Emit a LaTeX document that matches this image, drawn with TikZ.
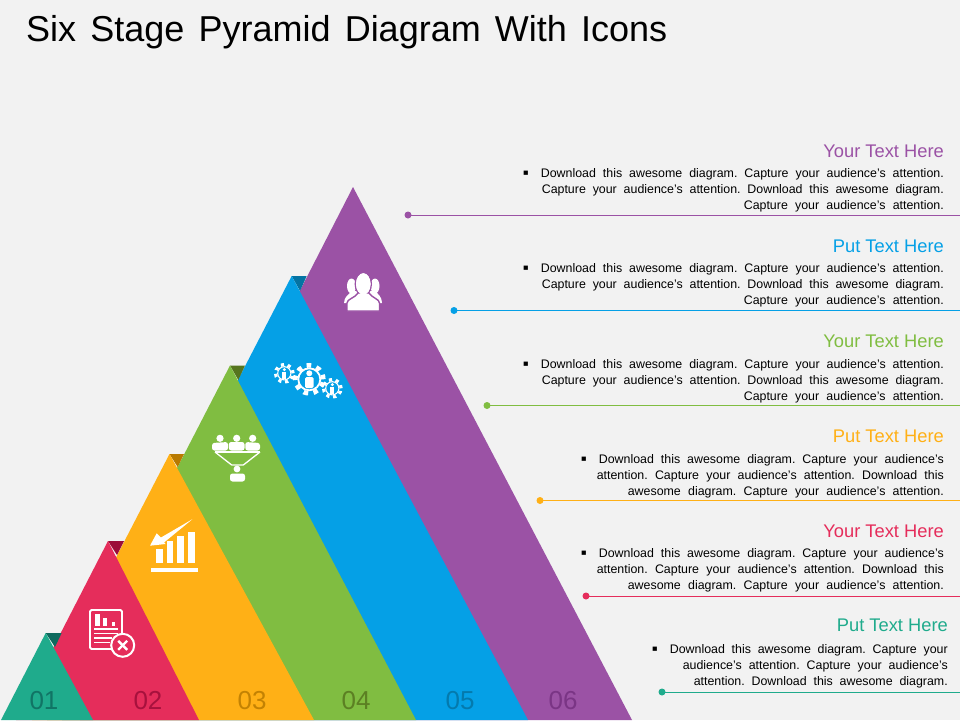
\documentclass[tikz,border=0pt]{standalone}
\usepackage{fontspec}
\setmainfont{Liberation Sans}

\definecolor{paper}{HTML}{F2F2F2}
\definecolor{tealc}{HTML}{1FAB8C}
\definecolor{redc}{HTML}{E52D5B}
\definecolor{yellowc}{HTML}{FFB016}
\definecolor{greenc}{HTML}{80BD41}
\definecolor{bluec}{HTML}{05A0E6}
\definecolor{purplec}{HTML}{9B52A5}
\definecolor{tealdark}{HTML}{0E6A5E}
\definecolor{reddark}{HTML}{9C0C38}
\definecolor{yellowdark}{HTML}{B87A00}
\definecolor{greendark}{HTML}{56751E}
\definecolor{bluedark}{HTML}{0473A3}
\definecolor{purpledark}{HTML}{74307F}

\newcommand{\fullrow}[2]{\makebox[#1pt][s]{#2}}

\tikzset{
  headtext/.style={anchor=east,inner sep=0pt,font=\fontsize{18.3}{20}\selectfont},
  bodytext/.style={anchor=north east,inner sep=0pt,align=right,font=\fontsize{12.4}{16}\selectfont\frenchspacing},
  bullettext/.style={inner sep=0pt,font=\fontsize{17}{16}\selectfont},
  numtext/.style={inner sep=0pt,font=\fontsize{26}{28}\selectfont},
  leader/.style={line width=0.8pt},
  iconline/.style={draw=white,line width=1.8pt},
  gearring/.style={draw=white,line width=1.8pt},
  gearteeth/.style={draw=white,line width=#1}
}

\begin{document}
\begin{tikzpicture}[x=1pt,y=-1pt]
  \useasboundingbox (0,0) rectangle (960,720);
  \fill[paper] (0,0) rectangle (960,720);

  \node [anchor=west,inner sep=0pt,font=\fontsize{36}{40}\selectfont] (title) at (26,32) {\fullrow{641}{Six Stage Pyramid Diagram With Icons}};

  % stripes, back to front
  \fill[purplec] (353,187) -- (632,720) -- (80,720) -- cycle;
  \fill[bluedark] (291.7,276) -- (306.7,276) -- (300,291) -- cycle;
  \fill[bluec] (291.7,276) -- (528,720) -- (62,720) -- cycle;
  \fill[greendark] (230,365.5) -- (245,365.5) -- (238.3,380) -- cycle;
  \fill[greenc] (230,365.5) -- (416,720) -- (47,720) -- cycle;
  \fill[yellowdark] (169.5,454) -- (184,454) -- (177.7,467) -- cycle;
  \fill[yellowc] (169.5,454) -- (314,720) -- (32,720) -- cycle;
  \fill[reddark] (108,541) -- (124,541) -- (117,555) -- cycle;
  \fill[redc] (108,541) -- (199,720) -- (16,720) -- cycle;
  \fill[tealdark] (45.7,633) -- (61.7,633) -- (55,647) -- cycle;
  \fill[tealc] (45.7,633) -- (93,720) -- (1,720) -- cycle;

  \node [numtext,text=tealdark!85!tealc] (n1) at (44,700.5) {01};
  \node [numtext,text=reddark!85!redc] (n2) at (148,700.5) {02};
  \node [numtext,text=yellowdark!85!yellowc] (n3) at (252,700.5) {03};
  \node [numtext,text=greendark!85!greenc] (n4) at (356,700.5) {04};
  \node [numtext,text=bluedark!85!bluec] (n5) at (460,700.5) {05};
  \node [numtext,text=purpledark!85!purplec] (n6) at (563,700.5) {06};

  % leader lines
  \coordinate (A) at (408,215);
  \coordinate (AA) at (960,215);
  \coordinate (B) at (454,310.5);
  \coordinate (BB) at (960,310.5);
  \coordinate (C) at (487,405.5);
  \coordinate (CC) at (960,405.5);
  \coordinate (D) at (540,500.5);
  \coordinate (DD) at (960,500.5);
  \coordinate (E) at (586,596);
  \coordinate (EE) at (960,596);
  \coordinate (F) at (662,692);
  \coordinate (FF) at (960,692);

  \fill[purplec] (A) circle (3.5pt);
  \draw[leader,purplec] (A) -- (AA);
  \fill[bluec] (B) circle (3.5pt);
  \draw[leader,bluec] (B) -- (BB);
  \fill[greenc] (C) circle (3.5pt);
  \draw[leader,greenc] (C) -- (CC);
  \fill[yellowc] (D) circle (3.5pt);
  \draw[leader,yellowc] (D) -- (DD);
  \fill[redc] (E) circle (3.5pt);
  \draw[leader,redc] (E) -- (EE);
  \fill[tealc] (F) circle (3.5pt);
  \draw[leader,tealc] (F) -- (FF);

  % texts
  \node [headtext,text=purplec] (h6) at (944,151) {Your Text Here};
  \node [bullettext] (b6) at (526,175) {▪};
  \node [bodytext] (t6) at (944,168.5) {\fullrow{403}{Download this awesome diagram. Capture your audience's attention.}\\\fullrow{402}{Capture your audience's attention. Download this awesome diagram.}\\\fullrow{200}{Capture your audience's attention.}};

  \node [headtext,text=bluec] (h5) at (944,246) {Put Text Here};
  \node [bullettext] (b5) at (526,270) {▪};
  \node [bodytext] (t5) at (944,263.5) {\fullrow{403}{Download this awesome diagram. Capture your audience's attention.}\\\fullrow{402}{Capture your audience's attention. Download this awesome diagram.}\\\fullrow{200}{Capture your audience's attention.}};

  \node [headtext,text=greenc] (h4) at (944,341) {Your Text Here};
  \node [bullettext] (b4) at (526,366) {▪};
  \node [bodytext] (t4) at (944,359.5) {\fullrow{403}{Download this awesome diagram. Capture your audience's attention.}\\\fullrow{402}{Capture your audience's attention. Download this awesome diagram.}\\\fullrow{200}{Capture your audience's attention.}};

  \node [headtext,text=yellowc] (h3) at (944,436) {Put Text Here};
  \node [bullettext] (b3) at (584,461) {▪};
  \node [bodytext] (t3) at (944,454.5) {\fullrow{345}{Download this awesome diagram. Capture your audience's}\\\fullrow{347}{attention. Capture your audience's attention. Download this}\\\fullrow{316}{awesome diagram. Capture your audience's attention.}};

  \node [headtext,text=redc] (h2) at (944,531) {Your Text Here};
  \node [bullettext] (b2) at (584,555) {▪};
  \node [bodytext] (t2) at (944,548.5) {\fullrow{345}{Download this awesome diagram. Capture your audience's}\\\fullrow{347}{attention. Capture your audience's attention. Download this}\\\fullrow{316}{awesome diagram. Capture your audience's attention.}};

  \node [headtext,text=tealc] (h1) at (948,625) {Put Text Here};
  \node [bullettext] (b1) at (655,651) {▪};
  \node [bodytext] (t1) at (948,644.5) {\fullrow{278}{Download this awesome diagram. Capture your}\\\fullrow{265}{audience's attention. Capture your audience's}\\\fullrow{254}{attention. Download this awesome diagram.}};

  % icon on red
  \draw[iconline,rounded corners=1.5pt] (90,610) rectangle (122,649);
  \fill[white] (95,613.5) rectangle (99.5,625.5);
  \fill[white] (102.5,618) rectangle (107,625.5);
  \fill[white] (111.5,622) rectangle (115,625.5);
  \fill[white] (94,628) rectangle (118,629.5);
  \fill[white] (94,632.5) rectangle (118,634);
  \fill[white] (94,637) rectangle (112,638.5);
  \fill[white] (94,641.5) rectangle (110,643);
  \draw[iconline,fill=redc,line width=2pt] (122.7,645.3) circle (11.5pt);
  \draw[white,line width=2.4pt] (118.2,640.8) -- (127.2,649.8);
  \draw[white,line width=2.4pt] (127.2,640.8) -- (118.2,649.8);

  % icon on yellow
  \fill[white] (151,567.7) rectangle (198,571.7);
  \fill[white] (156,549.3) rectangle (163.3,563.3);
  \fill[white] (166.7,540.7) rectangle (173.3,563.3);
  \fill[white] (177,535.7) rectangle (184.3,563.3);
  \fill[white] (187.7,532) rectangle (195,563.3);
  \fill[white] (150,545.7) -- (156.7,533.3) -- (161,537.5) -- (192.3,519.3) -- (164,542.5) -- (165.7,544) -- cycle;

  % icon on green
  \fill[white] (220,438.3) circle (3.6pt);
  \fill[white] (236.7,438.3) circle (3.6pt);
  \fill[white] (252.7,438.3) circle (3.6pt);
  \fill[white,rounded corners=2.5pt] (212,450.5) -- (212,443) -- (228,442) -- (228,450.5) -- cycle;
  \fill[white,rounded corners=2.5pt] (228.8,450.5) -- (228.8,442) -- (244.5,442) -- (244.5,450.5) -- cycle;
  \fill[white,rounded corners=2.5pt] (245.3,450.5) -- (245.3,442) -- (260,443) -- (260,450.5) -- cycle;
  \draw[iconline,line width=1.3pt] (215,452) -- (260,452);
  \draw[iconline,line width=1.3pt] (215,452) -- (231.7,465) -- (243.3,465) -- (260,452);
  \fill[white] (237,469) circle (3.4pt);
  \fill[white,rounded corners=2.5pt] (230,481.5) -- (230,473.5) -- (245,473.5) -- (245,481.5) -- cycle;

  % icon on blue
  \draw[gearteeth=4.6pt,dash pattern=on 4.6pt off 5.4pt] (309.3,379.3) circle (14pt);
  \draw[gearring] (309.3,379.3) circle (11pt);
  \fill[white] (309.3,373.3) circle (3pt);
  \fill[white,rounded corners=1.5pt] (305,377) rectangle (313.6,388);
  \draw[gearteeth=3.2pt,dash pattern=on 3.2pt off 3.8pt] (284.3,373.3) circle (8.8pt);
  \draw[gearring,line width=1.1pt] (284.3,373.3) circle (6.6pt);
  \fill[white] (284.3,369.6) circle (1.6pt);
  \fill[white] (282.4,371.5) rectangle (286.2,378.5);
  \draw[gearteeth=3.2pt,dash pattern=on 3.2pt off 3.8pt] (332.3,388.3) circle (8.8pt);
  \draw[gearring,line width=1.1pt] (332.3,388.3) circle (6.6pt);
  \fill[white] (332.3,384.6) circle (1.6pt);
  \fill[white] (330.4,386.5) rectangle (334.2,393.5);

  % icon on purple
  \fill[white] (351.5,286) ellipse (4.5pt and 7.5pt);
  \fill[white] (375,286) ellipse (4.5pt and 7.5pt);
  \fill[white] (344,303) .. controls (344,297) and (349,294) .. (352,291) -- (375,291) .. controls (378,294) and (382,297) .. (382,303) -- cycle;
  \fill[white,draw=purplec,line width=1.4pt] (363.3,284) ellipse (8pt and 11.5pt);
  \fill[white,draw=purplec,line width=1.4pt] (347,311) -- (347,303) .. controls (347,299) and (355,298) .. (358,293) -- (369,293) .. controls (372,298) and (379.5,299) .. (379.5,303) -- (379.5,311) -- cycle;
  \fill[white] (363.3,284) ellipse (7.3pt and 10.8pt);
\end{tikzpicture}
\end{document}
